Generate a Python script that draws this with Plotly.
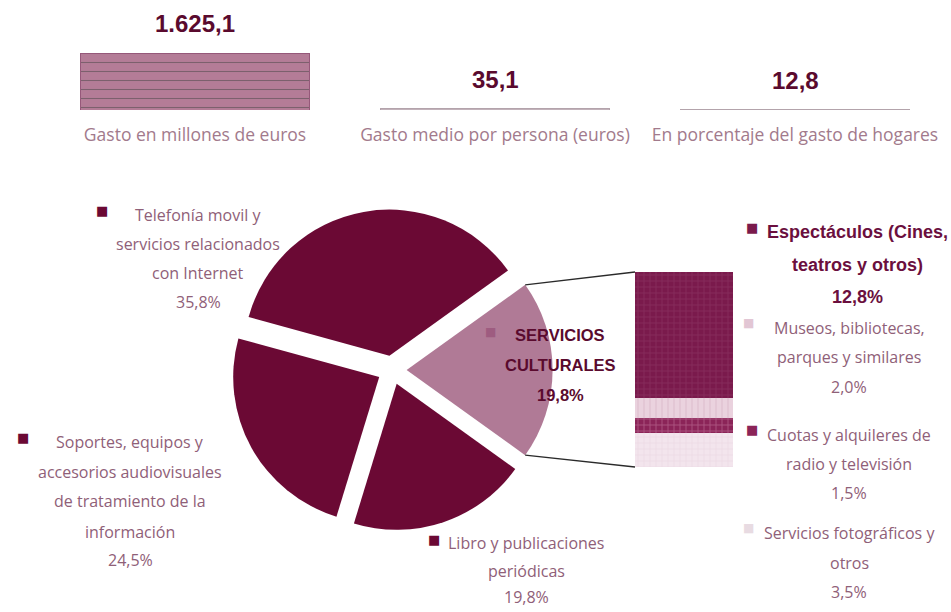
import math
import plotly.graph_objects as go

W, H = 951, 612

# ---- data -------------------------------------------------------------
header_labels = ["Gasto en millones de euros",
                 "Gasto medio por persona (euros)",
                 "En porcentaje del gasto de hogares"]
header_values = [1625.1, 35.1, 12.8]

# main breakdown, % of cultural spending (first slice is exploded into the bar)
pie_names = ["SERVICIOS CULTURALES",
             "Telefonía movil y servicios relacionados con Internet",
             "Soportes, equipos y accesorios audiovisuales de tratamiento de la información",
             "Libro y publicaciones periódicas"]
pie_values = [19.8, 35.8, 24.5, 19.8]
pie_label_lines = [["SERVICIOS", "CULTURALES"],
                   ["Telefonía movil y", "servicios relacionados", "con Internet"],
                   ["Soportes, equipos y", "accesorios audiovisuales",
                    "de tratamiento de la", "información"],
                   ["Libro y publicaciones", "periódicas"]]

# cultural services breakdown, stacked bottom to top
sub_names = ["Servicios fotográficos y otros",
             "Cuotas y alquileres de radio y televisión",
             "Museos, bibliotecas, parques y similares",
             "Espectáculos (Cines, teatros y otros)"]
sub_values = [3.5, 1.5, 2.0, 12.8]
sub_label_lines = [["Servicios fotográficos y", "otros"],
                   ["Cuotas y alquileres de", "radio y televisión"],
                   ["Museos, bibliotecas,", "parques y similares"],
                   ["Espectáculos (Cines,", "teatros y otros)"]]


def es(v, dec=1):
    s = f"{v:,.{dec}f}"
    return s.replace(",", "#").replace(".", ",").replace("#", ".")


def px(x):
    return x / W


def py(y):
    return 1 - y / H


DARK = "#6b0934"
MAUVE = "#b07a96"
TXT = "#8f6078"
NUM = "#5a0a2e"
LIGHT_FONT = "Open Sans"
BOLD_FONT = "Liberation Sans"
LBL = 16

fig = go.Figure()

# ---- header columns ---------------------------------------------------
fig.add_trace(go.Bar(
    x=list(range(len(header_values))), y=header_values, width=0.763,
    marker=dict(color=["#b47c97", "#c2b2ba", "#c2b2ba"],
                line=dict(color=["#96587a", "#b3a3ab", "#b3a3ab"], width=1),
                pattern=dict(shape=["-", "", ""], fgcolor="#8e5273",
                             bgcolor="#b47c97", size=9, solidity=0.12,
                             fillmode="overlay")),
    xaxis="x", yaxis="y", hoverinfo="skip"))

for i, v in enumerate(header_values):
    fig.add_annotation(x=i, y=v, xref="x", yref="y", yanchor="bottom",
                       yshift=14, text=f"<b>{es(v)}</b>", showarrow=False,
                       font=dict(family=BOLD_FONT, size=24, color=NUM))

# ---- pie --------------------------------------------------------------
R, PULL = 146, 0.10
CX, CY = 392, 370
half = R * (1 + PULL)
rotation = 90 - 360 * pie_values[0] / sum(pie_values) / 2
fig.add_trace(go.Pie(
    values=pie_values, labels=pie_names, sort=False,
    direction="counterclockwise", rotation=rotation,
    pull=[PULL] * len(pie_values), textinfo="none", hoverinfo="skip",
    marker=dict(colors=[MAUVE, DARK, DARK, DARK], line=dict(width=0)),
    domain=dict(x=[px(CX - half), px(CX + half)],
                y=[py(CY + half), py(CY - half)])))

# ---- stacked bar for the exploded slice --------------------------------
BX0, BX1, BY0, BY1 = 635, 733, 467, 272
sub_colors = ["#f3e5ed", "#8b2458", "#ead2de", "#7a1a4c"]
sub_fg = ["#e6cfdb", "#d58fb2", "#d9b5c7", "#94406b"]
sub_shapes = ["+", "+", "|", "+"]
for name, v, c, fg, sh in zip(sub_names, sub_values, sub_colors, sub_fg, sub_shapes):
    fig.add_trace(go.Bar(
        x=[0], y=[v], name=name, width=1, xaxis="x2", yaxis="y2",
        marker=dict(color=c, line=dict(width=0),
                    pattern=dict(shape=sh, fgcolor=fg, bgcolor=c, size=6,
                                 solidity=0.25, fillmode="overlay")),
        hoverinfo="skip"))

# connector lines from the exploded slice edges to the bar corners
half_ang = math.pi * pie_values[0] / sum(pie_values)
sx = CX + R * PULL
for sgn, by in ((1, BY1), (-1, BY0)):
    ex = sx + R * math.cos(half_ang)
    ey = CY - sgn * R * math.sin(half_ang)
    fig.add_shape(type="line", xref="paper", yref="paper",
                  x0=px(ex), y0=py(ey), x1=px(BX0), y1=py(by),
                  line=dict(color="#2a2a2a", width=1.3))


def block(lines, cx, ys, size, color, bold=False, family=LIGHT_FONT):
    for t, y in zip(lines, ys):
        fig.add_annotation(x=px(cx), y=py(y), xref="paper", yref="paper",
                           text=f"<b>{t}</b>" if bold else t, showarrow=False,
                           xanchor="center", yanchor="middle",
                           font=dict(family=family, size=size, color=color))


def square(x, y, color, size=13):
    fig.add_annotation(x=px(x), y=py(y), xref="paper", yref="paper",
                       text="■", showarrow=False, xanchor="center",
                       yanchor="middle",
                       font=dict(family="DejaVu Sans", size=size, color=color))


pct = lambda v: es(v) + "%"

# pie labels
block(pie_label_lines[0] + [pct(pie_values[0])], 560, [335, 365, 395], 16.5,
      NUM, bold=True, family=BOLD_FONT)
square(490, 332, "#9e5c80", 12)
block(pie_label_lines[1] + [pct(pie_values[1])], 198, [215, 244, 273, 302], LBL, TXT)
square(102, 210, DARK)
block(pie_label_lines[2] + [pct(pie_values[2])], 130, [442, 472, 501, 532, 560], LBL, TXT)
square(23, 437, DARK)
block(pie_label_lines[3] + [pct(pie_values[3])], 526, [543, 571, 597], LBL, TXT)
square(434, 539, DARK)

# bar labels (top item first)
block(sub_label_lines[3] + [pct(sub_values[3])], 857, [232, 265, 297], 18,
      "#6b0f3e", bold=True, family=BOLD_FONT)
square(752, 227, "#7a1a4c")
block(sub_label_lines[2] + [pct(sub_values[2])], 849, [328, 357, 387], LBL, TXT)
square(748, 323, "#e2c6d4", 12)
block(sub_label_lines[1] + [pct(sub_values[1])], 849, [435, 464, 493], LBL, TXT)
square(752, 430, "#8b2458")
block(sub_label_lines[0] + [pct(sub_values[0])], 849, [533, 563, 592], LBL, TXT)
square(748, 528, "#e8dbe2", 12)

fig.update_layout(
    width=W, height=H, margin=dict(l=0, r=0, t=0, b=0),
    paper_bgcolor="white", plot_bgcolor="rgba(0,0,0,0)",
    showlegend=False, barmode="stack",
    xaxis=dict(domain=[px(45), px(945)], range=[-0.5, 2.5],
               tickvals=list(range(len(header_labels))), ticktext=header_labels,
               ticks="outside", ticklen=9, tickcolor="rgba(0,0,0,0)",
               showgrid=False, zeroline=False, showline=False,
               tickfont=dict(family=LIGHT_FONT, size=17.5, color="#a27a8c"),
               fixedrange=True),
    yaxis=dict(domain=[py(110), py(40)], range=[0, 2000], visible=False,
               fixedrange=True),
    xaxis2=dict(domain=[px(BX0), px(BX1)], range=[-0.5, 0.5], visible=False,
                anchor="y2"),
    yaxis2=dict(domain=[py(BY0), py(BY1)], range=[0, sum(sub_values)],
                visible=False, anchor="x2"),
)

fig.write_html("out.html")
